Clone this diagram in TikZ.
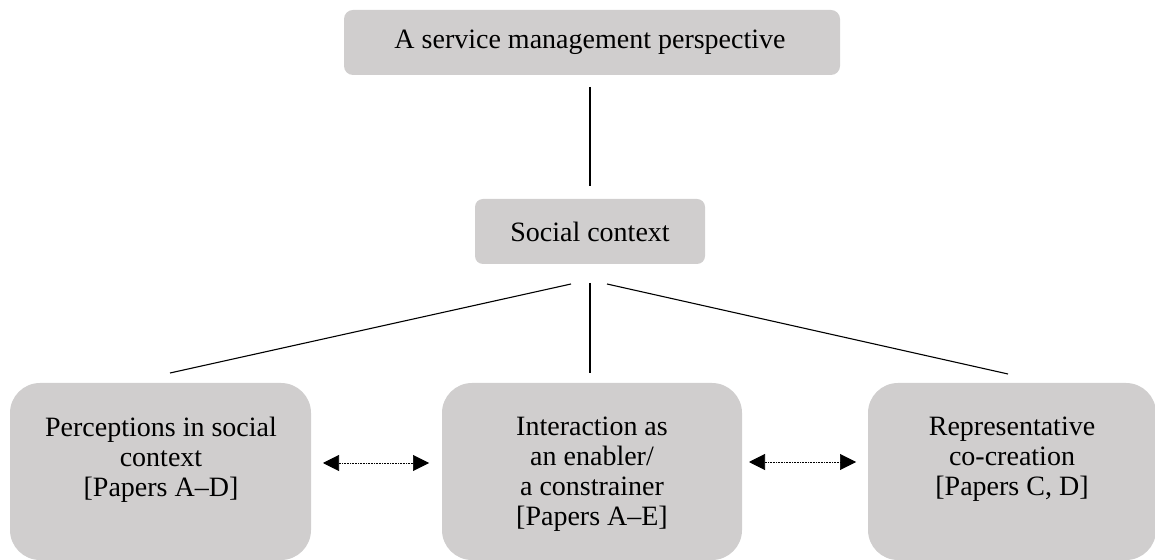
\documentclass[tikz,border=0pt]{standalone}
\usepackage{fontspec}
\setmainfont{Liberation Serif}
\usetikzlibrary{arrows.meta}
\definecolor{boxgray}{RGB}{208,206,206}
\begin{document}
\begin{tikzpicture}[x=1pt,y=1pt,
  gbox/.style={fill=boxgray,draw=none,inner sep=0pt},
  txt/.style={inner sep=0pt,align=center,font=\fontsize{28}{30}\selectfont},
  conn/.style={line width=1.1pt,black},
  darrow/.style={densely dotted,line width=0.6pt,{Triangle[length=16pt,width=16pt]}-{Triangle[length=16pt,width=16pt]}}]
\useasboundingbox (0,0) rectangle (1155,559);
% boxes
\node[gbox,rounded corners=9pt,minimum width=496pt,minimum height=65pt] (top) at (592,516.5) {};
\node[gbox,rounded corners=8pt,minimum width=230pt,minimum height=65pt] (sc) at (590,327.5) {};
\node[gbox,rounded corners=30pt,minimum width=301pt,minimum height=177pt] (left) at (160.5,87.5) {};
\node[gbox,rounded corners=30pt,minimum width=300pt,minimum height=177pt] (mid) at (592,87.5) {};
\node[gbox,rounded corners=30pt,minimum width=288pt,minimum height=177pt] (right) at (1012,87.5) {};
% texts
\node[txt] (toptxt) at (590,516.5) {A service management perspective};
\node[txt] (sctxt) at (sc.center) {Social context};
\node[txt,anchor=north] (lefttxt) at (161,142) {Perceptions in social\\context\\{[}Papers A--D{]}};
\node[txt,anchor=north] (midtxt) at (592,142) {Interaction as\\an enabler/\\a constrainer\\{[}Papers A--E{]}};
\node[txt,anchor=north] (righttxt) at (1012,142) {Representative\\co-creation\\{[}Papers C, D{]}};
% connector end points
\coordinate (v1a) at (590,472);
\coordinate (v1b) at (590,373);
\coordinate (v2a) at (590,276);
\coordinate (v2b) at (590,186);
\coordinate (la) at (571,275);
\coordinate (lb) at (170,186);
\coordinate (ra) at (607,275);
\coordinate (rb) at (1008,185);
\coordinate (a1a) at (323,96);
\coordinate (a1b) at (429,96);
\coordinate (a2a) at (749,97);
\coordinate (a2b) at (856,97);
% connectors
\draw[conn] (v1a) -- (v1b);
\draw[conn] (v2a) -- (v2b);
\draw[conn] (la) -- (lb);
\draw[conn] (ra) -- (rb);
\draw[darrow] (a1a) -- (a1b);
\draw[darrow] (a2a) -- (a2b);
\end{tikzpicture}
\end{document}
